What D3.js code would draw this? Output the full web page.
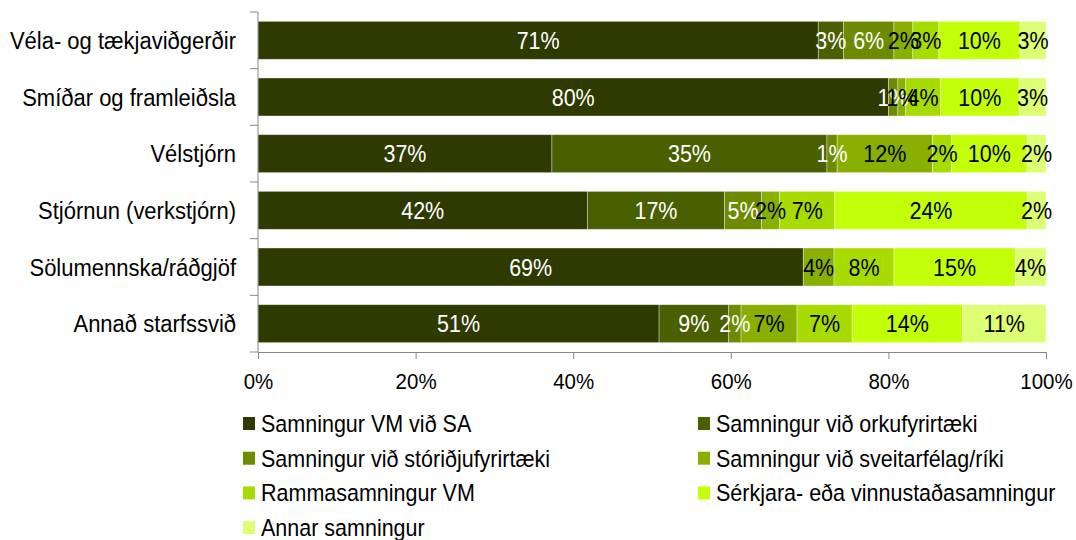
<!DOCTYPE html>
<html>
<head>
<meta charset="utf-8">
<script src="https://cdn.jsdelivr.net/npm/d3@7"></script>
<style>
  body { margin: 0; background: #fff; }
  svg text { font-family: "Liberation Sans", Arial, sans-serif; }
</style>
</head>
<body>
<svg id="chart" width="1076" height="540"></svg>
<script>
// categories (top to bottom)
const categories = ['Véla- og tækjaviðgerðir', 'Smíðar og framleiðsla', 'Vélstjórn',
  'Stjórnun (verkstjórn)', 'Sölumennska/ráðgjöf', 'Annað starfssvið'];

// series, one value per category (share of the row)
const seriesNames = ['Samningur VM við SA', 'Samningur við orkufyrirtæki',
  'Samningur við stóriðjufyrirtæki', 'Samningur við sveitarfélag/ríki',
  'Rammasamningur VM', 'Sérkjara- eða vinnustaðasamningur', 'Annar samningur'];
const samningurSA      = [0.711, 0.800, 0.373, 0.418, 0.692, 0.509];
const orkufyrirtaeki   = [0.032, 0.000, 0.349, 0.174, 0.000, 0.088];
const storidjufyrirt   = [0.064, 0.012, 0.013, 0.047, 0.000, 0.016];
const sveitarfelagRiki = [0.024, 0.010, 0.121, 0.023, 0.039, 0.071];
const rammasamningur   = [0.033, 0.044, 0.024, 0.070, 0.076, 0.070];
const serkjara         = [0.103, 0.100, 0.096, 0.244, 0.154, 0.140];
const annarSamningur   = [0.033, 0.034, 0.024, 0.024, 0.039, 0.106];
const seriesValues = [samningurSA, orkufyrirtaeki, storidjufyrirt, sveitarfelagRiki,
  rammasamningur, serkjara, annarSamningur];

const xTicks = [0, 0.2, 0.4, 0.6, 0.8, 1];

const colors = ['#2e3a00', '#4a5f00', '#6c8b00', '#89af00', '#a8db00', '#c4ff0a', '#dcff73'];
const labelColors = ['#fff', '#fff', '#fff', '#000', '#000', '#000', '#000'];

const svg = d3.select('#chart');
const margin = { top: 12, left: 258 };
const innerWidth = 1046 - margin.left;
const innerHeight = 352 - margin.top;
const stretch = 1.1; // text in the original is a bit taller than wide

const g = svg.append('g')
  .attr('transform', `translate(${margin.left},${margin.top})`);

// build rows for stacking
const data = categories.map((c, i) => {
  const row = { cat: c };
  seriesNames.forEach((s, j) => { row[s] = seriesValues[j][i]; });
  return row;
});
const stacked = d3.stack().keys(seriesNames)(data);

const x = d3.scaleLinear().domain([0, 1]).range([0, innerWidth]);
const y = d3.scaleBand().domain(categories).range([0, innerHeight])
  .paddingInner(0.33).paddingOuter(0.165);

// bars
const layers = g.selectAll('.layer')
  .data(stacked)
  .enter().append('g')
  .attr('class', 'layer')
  .attr('fill', (d, i) => colors[i]);

layers.selectAll('rect')
  .data(d => d.filter(p => p[1] - p[0] > 0))
  .enter().append('rect')
  .attr('x', p => x(p[0]))
  .attr('y', p => y(p.data.cat))
  .attr('width', p => x(p[1]) - x(p[0]))
  .attr('height', y.bandwidth())
  .attr('stroke', '#ffffff')
  .attr('stroke-opacity', 0.45)
  .attr('stroke-width', 0.8);

// value labels
stacked.forEach((layer, i) => {
  g.selectAll('.lbl' + i)
    .data(layer.filter(p => p[1] - p[0] > 0.005))
    .enter().append('text')
    .attr('transform', p => `translate(${x((p[0] + p[1]) / 2)},${y(p.data.cat) + y.bandwidth() / 2}) scale(1,${stretch})`)
    .attr('dy', '0.36em')
    .attr('text-anchor', 'middle')
    .attr('font-size', 21.5)
    .attr('fill', labelColors[i])
    .text(p => d3.format('.0%')(p[1] - p[0]));
});

// x axis
const xAxis = g.append('g')
  .attr('transform', `translate(0,${innerHeight})`)
  .call(d3.axisBottom(x).tickValues(xTicks).tickFormat(d3.format('.0%'))
    .tickSize(7).tickPadding(14).tickSizeOuter(0));
xAxis.select('.domain').attr('stroke', '#888');
xAxis.selectAll('.tick line').attr('stroke', '#888');
xAxis.selectAll('.tick text')
  .attr('font-size', 20.5).attr('fill', '#000')
  .attr('transform', `translate(0,21) scale(1,${stretch}) translate(0,-21)`);

// y axis: line with ticks at band boundaries
g.append('line')
  .attr('x1', 0).attr('x2', 0).attr('y1', 0).attr('y2', innerHeight)
  .attr('stroke', '#888');
const bounds = d3.range(categories.length + 1).map(i => i * y.step());
g.selectAll('.ytick')
  .data(bounds)
  .enter().append('line')
  .attr('x1', -8).attr('x2', 0)
  .attr('y1', d => d).attr('y2', d => d)
  .attr('stroke', '#888');
g.selectAll('.ylab')
  .data(categories)
  .enter().append('text')
  .attr('transform', d => `translate(-22,${y(d) + y.bandwidth() / 2}) scale(1,${stretch})`)
  .attr('dy', '0.36em')
  .attr('text-anchor', 'end')
  .attr('font-size', 22)
  .attr('fill', '#000')
  .text(d => d);

// legend
const legend = svg.append('g').attr('transform', 'translate(243, 423.5)');
seriesNames.forEach((s, i) => {
  const col = i % 2, row = Math.floor(i / 2);
  const item = legend.append('g')
    .attr('transform', `translate(${col * 455}, ${row * 34.7})`);
  item.append('rect').attr('x', 0).attr('y', -6.5).attr('width', 12).attr('height', 13)
    .attr('fill', colors[i]);
  item.append('text')
    .attr('transform', `translate(18,0) scale(1,${stretch})`)
    .attr('dy', '0.36em')
    .attr('font-size', 21.5).attr('fill', '#000')
    .text(s);
});
</script>
</body>
</html>
